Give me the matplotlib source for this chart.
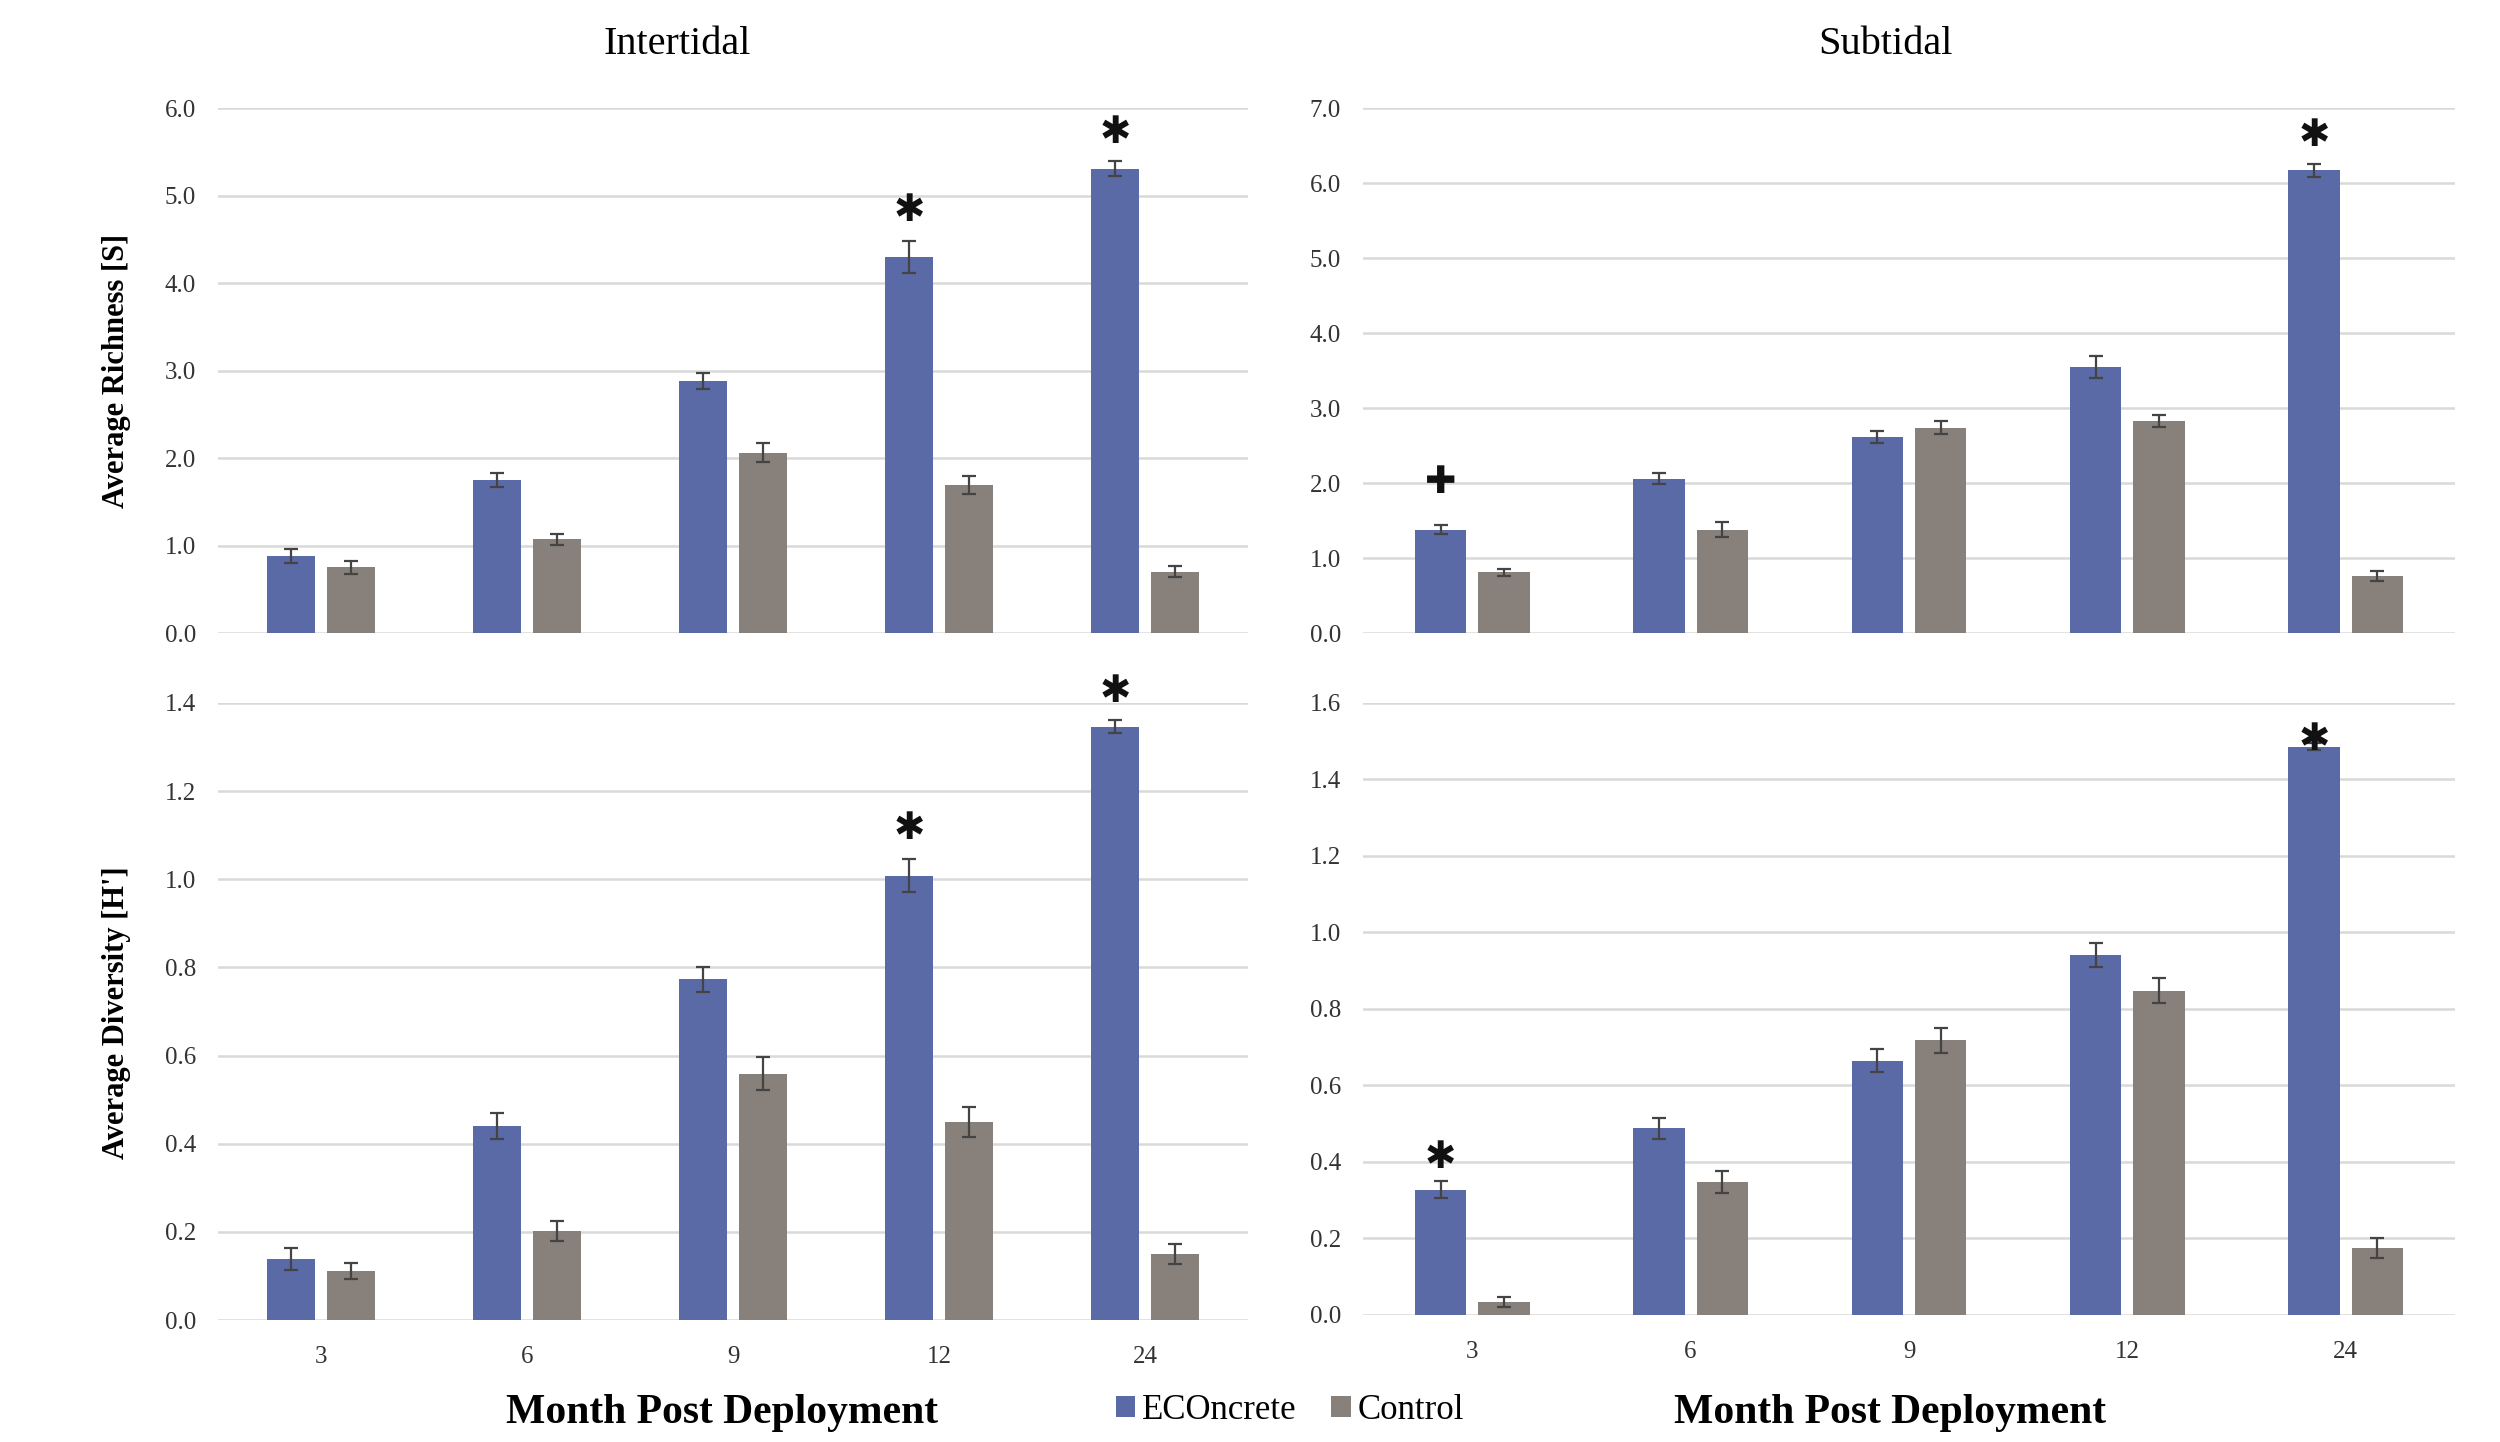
import numpy as np
import matplotlib
matplotlib.use("Agg")
from matplotlib import pyplot as plt

months = ["3", "6", "9", "12", "24"]
series = ["ECOncrete", "Control"]

# richness [S]
inter_rich_eco = [0.88, 1.75, 2.88, 4.30, 5.31]
inter_rich_eco_err = [0.075, 0.08, 0.09, 0.18, 0.085]
inter_rich_ctl = [0.75, 1.07, 2.06, 1.69, 0.70]
inter_rich_ctl_err = [0.075, 0.065, 0.11, 0.10, 0.065]

sub_rich_eco = [1.38, 2.06, 2.62, 3.55, 6.17]
sub_rich_eco_err = [0.065, 0.075, 0.08, 0.15, 0.09]
sub_rich_ctl = [0.81, 1.38, 2.74, 2.83, 0.76]
sub_rich_ctl_err = [0.05, 0.10, 0.09, 0.08, 0.065]

# diversity [H']
inter_div_eco = [0.139, 0.440, 0.773, 1.008, 1.346]
inter_div_eco_err = [0.025, 0.03, 0.028, 0.037, 0.015]
inter_div_ctl = [0.112, 0.202, 0.559, 0.450, 0.149]
inter_div_ctl_err = [0.018, 0.022, 0.037, 0.034, 0.023]

sub_div_eco = [0.328, 0.488, 0.665, 0.941, 1.486]
sub_div_eco_err = [0.023, 0.027, 0.03, 0.031, 0.01]
sub_div_ctl = [0.034, 0.348, 0.718, 0.848, 0.174]
sub_div_ctl_err = [0.012, 0.029, 0.032, 0.032, 0.026]

# significance marks: (category index, symbol, offset in points)
inter_rich_marks = [(3, "*", 22), (4, "*", 20)]
sub_rich_marks = [(0, "+", 30), (4, "*", 20)]
inter_div_marks = [(3, "*", 22), (4, "*", 20)]
sub_div_marks = [(0, "*", 16), (4, "*", 2)]

BLUE = "#5a6aa7"
GRAY = "#87807b"
SERIF = "Liberation Serif"

fig = plt.figure(figsize=(25, 14.42), dpi=100)

panels = [
    ([0.0872, 0.561, 0.412, 0.364], inter_rich_eco, inter_rich_eco_err, inter_rich_ctl, inter_rich_ctl_err,
     6.0, 1.0, inter_rich_marks, False),
    ([0.5452, 0.561, 0.4368, 0.364], sub_rich_eco, sub_rich_eco_err, sub_rich_ctl, sub_rich_ctl_err,
     7.0, 1.0, sub_rich_marks, False),
    ([0.0872, 0.0846, 0.412, 0.4279], inter_div_eco, inter_div_eco_err, inter_div_ctl, inter_div_ctl_err,
     1.4, 0.2, inter_div_marks, True),
    ([0.5452, 0.0881, 0.4368, 0.4244], sub_div_eco, sub_div_eco_err, sub_div_ctl, sub_div_ctl_err,
     1.6, 0.2, sub_div_marks, True),
]

x = np.arange(len(months))
w = 0.235
axes = []
for rect, eco, eco_err, ctl, ctl_err, ymax, step, marks, show_x in panels:
    ax = fig.add_axes(rect)
    axes.append(ax)
    ax.set_xlim(-0.5, len(months) - 0.5)
    ax.set_ylim(0, ymax)
    ticks = np.arange(0, ymax + step / 2, step)
    ax.set_yticks(ticks)
    ax.set_yticklabels(["{:.1f}".format(t) for t in ticks], fontsize=18, family=SERIF, color="#333333")
    ax.yaxis.grid(True, color="#d9d9d9", lw=1.8)
    ax.set_axisbelow(True)
    for s in ax.spines.values():
        s.set_visible(False)
    ax.tick_params(axis="both", length=0, pad=16)
    ax.set_xticks(x)
    if show_x:
        ax.set_xticklabels(months, fontsize=18, family=SERIF, color="#333333")
        ax.tick_params(axis="x", pad=19)
    else:
        ax.set_xticklabels([])

    ekw = dict(ecolor="#444444", elinewidth=1.6, capsize=5, capthick=1.6)
    ax.bar(x - 0.145, eco, w, color=BLUE, yerr=eco_err, error_kw=ekw, label=series[0])
    ax.bar(x + 0.145, ctl, w, color=GRAY, yerr=ctl_err, error_kw=ekw, label=series[1])

    for i, sym, off in marks:
        top = eco[i] + eco_err[i]
        glyph = "\u2731" if sym == "*" else "\u271a"
        ax.annotate(glyph, (x[i] - 0.145, top), xytext=(0, off), textcoords="offset points",
                    ha="center", va="center", fontsize=27, family="DejaVu Sans",
                    color="#111111", annotation_clip=False)

fig.text(0.271, 0.969, "Intertidal", ha="center", va="center", fontsize=29, family=SERIF)
fig.text(0.754, 0.969, "Subtidal", ha="center", va="center", fontsize=29, family=SERIF)
fig.text(0.0466, 0.743, "Average Richness [S]", rotation=90, ha="center", va="center",
         fontsize=22, fontweight="bold", family=SERIF)
fig.text(0.0466, 0.2976, "Average Diversity [H']", rotation=90, ha="center", va="center",
         fontsize=22, fontweight="bold", family=SERIF)
fig.text(0.289, 0.020, "Month Post Deployment", ha="center", va="center",
         fontsize=30, fontweight="bold", family=SERIF)
fig.text(0.756, 0.020, "Month Post Deployment", ha="center", va="center",
         fontsize=30, fontweight="bold", family=SERIF)

handles, labels = axes[0].get_legend_handles_labels()
fig.legend(handles, labels, loc="center", bbox_to_anchor=(0.516, 0.022), ncol=2, frameon=False,
           prop={"family": SERIF, "size": 25}, handlelength=0.55, handleheight=0.55,
           handletextpad=0.2, columnspacing=1.0)

fig.savefig("out.png", dpi=100)
